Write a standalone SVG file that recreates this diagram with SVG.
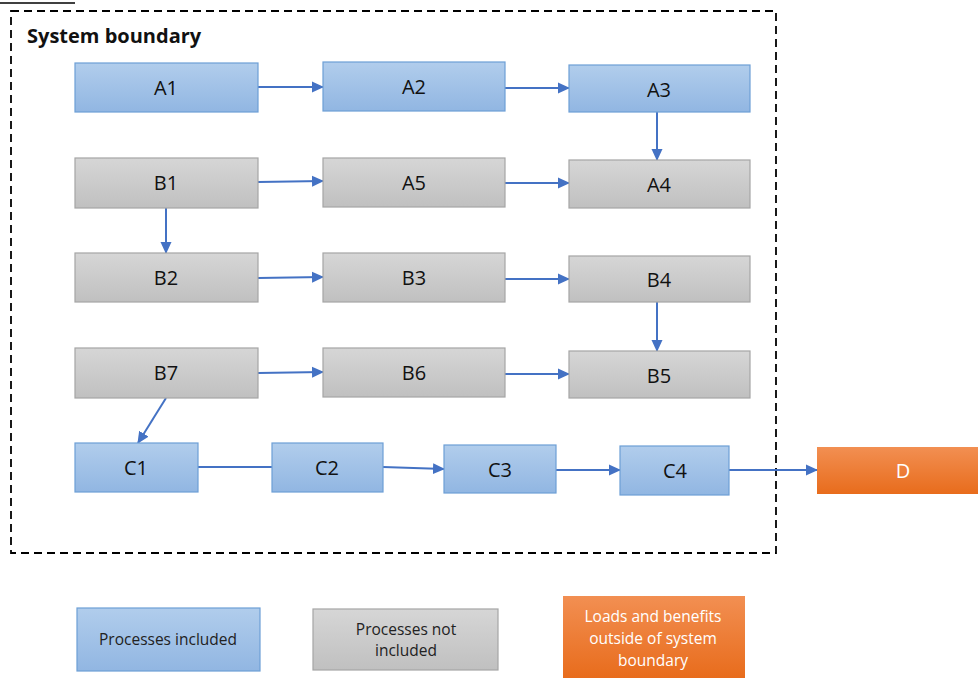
<svg xmlns="http://www.w3.org/2000/svg" width="978" height="678" viewBox="0 0 978 678">
<style>
text{font-family:"Open Sans","Liberation Sans",sans-serif;text-anchor:middle;dominant-baseline:central}
.lbl{font-size:20px;fill:#111}
.inc{fill:url(#gb);stroke:#6d9fd6;stroke-width:1.2}
.exc{fill:url(#gg);stroke:#a5a5a5;stroke-width:1.2}
.ext{fill:url(#go);stroke:none}
.leg{font-size:15.5px;fill:#222}
.c{stroke:#4472c4;stroke-width:2;fill:none}
.a{marker-end:url(#ah)}
</style>
<defs>
<linearGradient id="gb" x1="0" y1="0" x2="0" y2="1"><stop offset="0" stop-color="#b1cdec"/><stop offset="1" stop-color="#91b6e2"/></linearGradient>
<linearGradient id="gg" x1="0" y1="0" x2="0" y2="1"><stop offset="0" stop-color="#d6d6d6"/><stop offset="1" stop-color="#c0c0c0"/></linearGradient>
<linearGradient id="go" x1="0" y1="0" x2="0" y2="1"><stop offset="0" stop-color="#f28f52"/><stop offset="1" stop-color="#e86c1c"/></linearGradient>
<marker id="ah" markerWidth="12" markerHeight="12" refX="11" refY="6" orient="auto" markerUnits="userSpaceOnUse"><path d="M0,0.5 L12,6 L0,11.5 z" fill="#4472c4"/></marker>
</defs>
<line x1="0" y1="3" x2="75" y2="3" stroke="#000" stroke-width="1.5"/>
<rect x="11" y="11" width="765" height="542" fill="none" stroke="#000" stroke-width="1.8" stroke-dasharray="8,5"/>
<text x="27" y="35" style="text-anchor:start;font-size:20px;font-weight:bold;fill:#111">System boundary</text>
<g id="connectors">
<line class="c a" x1="258" y1="87" x2="323" y2="87"/>
<line class="c a" x1="505" y1="88" x2="569" y2="88"/>
<line class="c a" x1="657" y1="112" x2="657" y2="160"/>
<line class="c a" x1="258" y1="182" x2="323" y2="181"/>
<line class="c a" x1="505" y1="183" x2="569" y2="183"/>
<line class="c a" x1="166" y1="208" x2="166" y2="253"/>
<line class="c a" x1="258" y1="278" x2="323" y2="277"/>
<line class="c a" x1="505" y1="279" x2="569" y2="279"/>
<line class="c a" x1="657" y1="302" x2="657" y2="351"/>
<line class="c a" x1="258" y1="373" x2="323" y2="372"/>
<line class="c a" x1="505" y1="374" x2="569" y2="374"/>
<line class="c a" x1="166" y1="398" x2="138" y2="443"/>
<line class="c" x1="198" y1="467" x2="272" y2="467"/>
<line class="c a" x1="383" y1="467" x2="444" y2="469"/>
<line class="c a" x1="556" y1="470" x2="620" y2="470"/>
<line class="c a" x1="729" y1="470" x2="817" y2="470"/>
</g>
<g id="A1"><rect class="inc" x="75" y="63" width="183" height="49"/><text class="lbl" x="166" y="87">A1</text></g>
<g id="A2"><rect class="inc" x="323" y="62" width="182" height="49"/><text class="lbl" x="414" y="86">A2</text></g>
<g id="A3"><rect class="inc" x="569" y="65" width="181" height="47"/><text class="lbl" x="659" y="89">A3</text></g>
<g id="A4"><rect class="exc" x="569" y="160" width="181" height="48"/><text class="lbl" x="659" y="184">A4</text></g>
<g id="B1"><rect class="exc" x="75" y="158" width="183" height="50"/><text class="lbl" x="166" y="182">B1</text></g>
<g id="A5"><rect class="exc" x="323" y="158" width="182" height="49"/><text class="lbl" x="414" y="182">A5</text></g>
<g id="B2"><rect class="exc" x="75" y="253" width="183" height="49"/><text class="lbl" x="166" y="277">B2</text></g>
<g id="B3"><rect class="exc" x="323" y="253" width="182" height="49"/><text class="lbl" x="414" y="277">B3</text></g>
<g id="B4"><rect class="exc" x="569" y="256" width="181" height="46"/><text class="lbl" x="659" y="279">B4</text></g>
<g id="B7"><rect class="exc" x="75" y="348" width="183" height="50"/><text class="lbl" x="166" y="372">B7</text></g>
<g id="B6"><rect class="exc" x="323" y="348" width="182" height="49"/><text class="lbl" x="414" y="372">B6</text></g>
<g id="B5"><rect class="exc" x="569" y="351" width="181" height="47"/><text class="lbl" x="659" y="375">B5</text></g>
<g id="C1"><rect class="inc" x="75" y="443" width="123" height="49"/><text class="lbl" x="136" y="467">C1</text></g>
<g id="C2"><rect class="inc" x="272" y="443" width="111" height="49"/><text class="lbl" x="327" y="467">C2</text></g>
<g id="C3"><rect class="inc" x="444" y="445" width="112" height="48"/><text class="lbl" x="500" y="469">C3</text></g>
<g id="C4"><rect class="inc" x="620" y="446" width="109" height="49"/><text class="lbl" x="675" y="470">C4</text></g>
<g id="D"><rect class="ext" x="817" y="447" width="161" height="47"/><text class="lbl" x="903" y="470" style="fill:#fff">D</text></g>
<g id="legend-included"><rect class="inc" x="77" y="608" width="183" height="63"/><text class="leg" x="168" y="639">Processes included</text></g>
<g id="legend-not-included"><rect class="exc" x="313" y="609" width="185" height="61"/><text class="leg" x="406" y="629">Processes not</text><text class="leg" x="406" y="650">included</text></g>
<g id="legend-outside"><rect class="ext" x="563" y="596" width="182" height="82"/><text class="leg" x="653" y="616" style="fill:#fff">Loads and benefits</text><text class="leg" x="653" y="638" style="fill:#fff">outside of system</text><text class="leg" x="653" y="660" style="fill:#fff">boundary</text></g>
</svg>
